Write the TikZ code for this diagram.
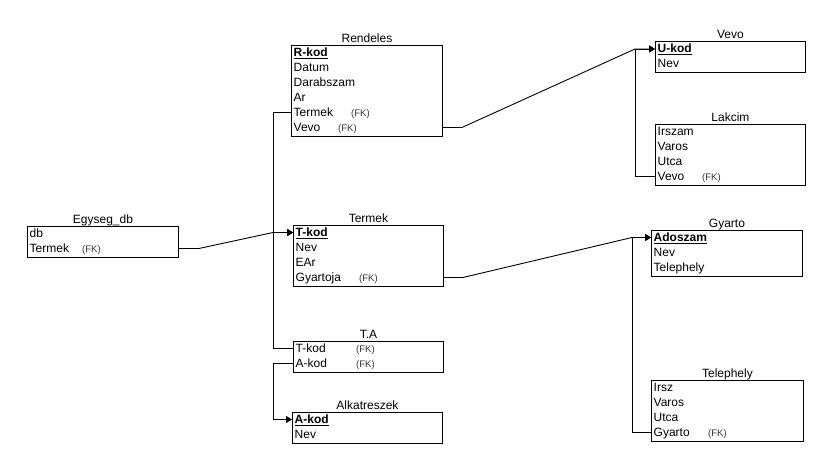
\documentclass[tikz,border=0pt]{standalone}
\usepackage{fontspec}
\setmainfont{Liberation Sans}
\usepackage{tikz}
\usetikzlibrary{arrows.meta,calc,positioning}

\newcommand{\pkey}[1]{\underline{\textbf{#1}}}

\begin{document}
\begin{tikzpicture}[x=1pt,y=-1pt]
  % Define styles
  \tikzstyle{entity} = [draw, line width=0.9pt, anchor=north west, inner sep=0pt, minimum width=151pt]
  \tikzstyle{enttitle} = [anchor=base, inner sep=0pt, yshift=2.5pt, font=\fontsize{12}{14}\selectfont]
  \tikzstyle{attr} = [anchor=west, inner sep=0pt, text height=10pt, text depth=2pt, font=\fontsize{12}{14}\selectfont]
  \tikzstyle{fknote} = [anchor=west, inner sep=0pt, text height=10pt, text depth=2pt, text=black!80, font=\fontsize{9.5}{11}\selectfont]
  \tikzstyle{ref} = [line width=0.9pt, -{Triangle[length=6pt,width=7pt]}]
  \tikzstyle{refline} = [line width=0.9pt]

  \useasboundingbox (0,0) rectangle (831,468);

  % Rendeles
  \node[entity, minimum height=91pt] (rend) at (291,45) {};
  \node[enttitle] at (rend.north) {Rendeles};
  \node[attr] (rend1) at (293.5,52.5) {\pkey{R-kod}};
  \node[attr] (rend2) at (293.5,67.5) {Datum};
  \node[attr] (rend3) at (293.5,82.5) {Darabszam};
  \node[attr] (rend4) at (293.5,97.5) {Ar};
  \node[attr] (rend5) at (293.5,112.5) {Termek};
  \node[attr] (rend6) at (293.5,127.5) {Vevo};
  \node[fknote] at (351,112.5) {(FK)};
  \node[fknote] at (338,127.5) {(FK)};

  % Vevo
  \node[entity, minimum width=150pt, minimum height=31pt] (vevo) at (655,41.5) {};
  \node[enttitle] at (vevo.north) {Vevo};
  \node[attr] (vevo1) at (657.5,49) {\pkey{U-kod}};
  \node[attr] (vevo2) at (657.5,64) {Nev};

  % Lakcim
  \node[entity, minimum width=150pt, minimum height=61pt] (lak) at (655,124) {};
  \node[enttitle] at (lak.north) {Lakcim};
  \node[attr] (lak1) at (657.5,131.5) {Irszam};
  \node[attr] (lak2) at (657.5,146.5) {Varos};
  \node[attr] (lak3) at (657.5,161.5) {Utca};
  \node[attr] (lak4) at (657.5,176.5) {Vevo};
  \node[fknote] at (702,176.5) {(FK)};

  % Egyseg_db
  \node[entity, minimum height=31pt] (egy) at (27,226) {};
  \node[enttitle] at (egy.north) {Egyseg\_db};
  \node[attr] (egy1) at (29.5,233.5) {db};
  \node[attr] (egy2) at (29.5,248.5) {Termek};
  \node[fknote] at (82,248.5) {(FK)};

  % Termek
  \node[entity, minimum width=150pt, minimum height=61pt] (term) at (293,225) {};
  \node[enttitle] at (term.north) {Termek};
  \node[attr] (term1) at (295.5,232.5) {\pkey{T-kod}};
  \node[attr] (term2) at (295.5,247.5) {Nev};
  \node[attr] (term3) at (295.5,262.5) {EAr};
  \node[attr] (term4) at (295.5,277.5) {Gyartoja};
  \node[fknote] at (359,277.5) {(FK)};

  % T.A
  \node[entity, minimum width=150pt, minimum height=31pt] (ta) at (293,341) {};
  \node[enttitle] at (ta.north) {T.A};
  \node[attr] (ta1) at (295.5,348.5) {T-kod};
  \node[attr] (ta2) at (295.5,363.5) {A-kod};
  \node[fknote] at (356,348.5) {(FK)};
  \node[fknote] at (356,363.5) {(FK)};

  % Alkatreszek
  \node[entity, minimum width=150pt, minimum height=31pt] (alk) at (292,412) {};
  \node[enttitle] at (alk.north) {Alkatreszek};
  \node[attr] (alk1) at (294.5,419.5) {\pkey{A-kod}};
  \node[attr] (alk2) at (294.5,434.5) {Nev};

  % Gyarto
  \node[entity, minimum height=46pt] (gyar) at (651,230) {};
  \node[enttitle] at (gyar.north) {Gyarto};
  \node[attr] (gyar1) at (653.5,237.5) {\pkey{Adoszam}};
  \node[attr] (gyar2) at (653.5,252.5) {Nev};
  \node[attr] (gyar3) at (653.5,267.5) {Telephely};

  % Telephely
  \node[entity, minimum width=152pt, minimum height=61pt] (tel) at (651,380) {};
  \node[enttitle] at (tel.north) {Telephely};
  \node[attr] (tel1) at (653.5,387.5) {Irsz};
  \node[attr] (tel2) at (653.5,402.5) {Varos};
  \node[attr] (tel3) at (653.5,417.5) {Utca};
  \node[attr] (tel4) at (653.5,432.5) {Gyarto};
  \node[fknote] at (708,432.5) {(FK)};

  % Foreign keys
  \draw[ref] (rend.west |- rend5) -- ++(-18,0) |- (term.west |- term1);
  \draw[ref] (ta.west |- ta1) -- ++(-20,0) |- (term.west |- term1);
  \draw[ref] (egy.east |- egy2) -- ++(20,0) -- ($(term.west |- term1)+(-20,0)$) -- (term.west |- term1);
  \draw[ref] (ta.west |- ta2) -- ++(-20,0) |- (alk.west |- alk1);
  \draw[ref] (rend.east |- rend6) -- ++(19,0) -- ($(vevo.west |- vevo1)+(-20,0)$) -- (vevo.west |- vevo1);
  \draw[ref] (lak.west |- lak4) -- ++(-20,0) |- (vevo.west |- vevo1);
  \draw[ref] (term.east |- term4) -- ++(19,0) -- ($(gyar.west |- gyar1)+(-19,0)$) -- (gyar.west |- gyar1);
  \draw[ref] (tel.west |- tel4) -- ++(-19,0) |- (gyar.west |- gyar1);
\end{tikzpicture}
\end{document}
